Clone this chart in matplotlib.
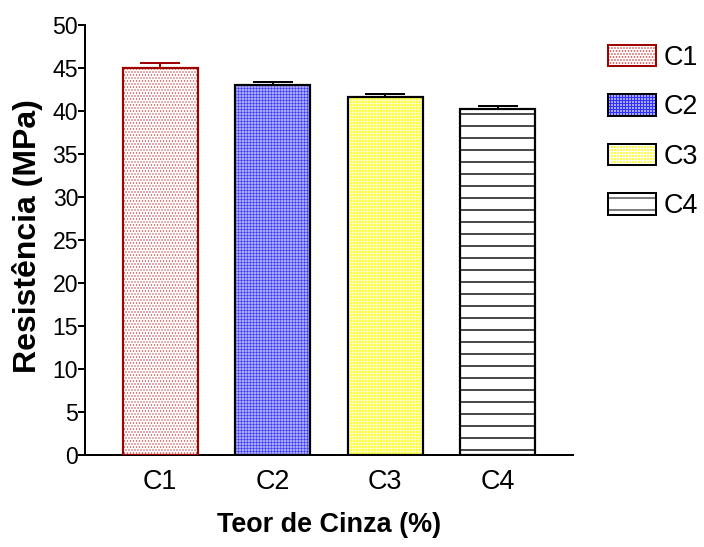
import numpy as np
import matplotlib as mpl
import matplotlib.pyplot as plt
from matplotlib.legend_handler import HandlerTuple

plt.rcParams['font.family'] = ['Liberation Sans', 'DejaVu Sans']

# data
groups = ['C1', 'C2', 'C3', 'C4']
means = [45.0, 43.0, 41.6, 40.3]
errs = [0.6, 0.4, 0.35, 0.3]

face_colors = ['white', '#a8a8ff', '#ffff40', 'white']
edge_colors = ['#a00000', 'black', 'black', 'black']
hatch_colors = ['#d04040', '#3030ff', 'white', 'black']
hatches = ['....', '++++', '++++', '-']
hatch_lw = [0.8, 0.5, 0.5, 1.4]

# dpi 72 so the hatch spacing matches the original
fig = plt.figure(figsize=(704 / 72, 547 / 72), dpi=72)
ax = fig.add_axes([0.121, 0.168, 0.693, 0.786])

x = np.arange(len(groups))
for i in range(len(groups)):
    with mpl.rc_context({'hatch.linewidth': hatch_lw[i]}):
        ax.bar(x[i], means[i], width=0.67, color=face_colors[i],
               edgecolor=hatch_colors[i], hatch=hatches[i], linewidth=0,
               zorder=2)
    ax.bar(x[i], means[i], width=0.67, fill=False,
           edgecolor=edge_colors[i], linewidth=2.2, zorder=3)
    ax.errorbar(x[i], means[i], yerr=[[0], [errs[i]]], fmt='none',
                ecolor=edge_colors[i], elinewidth=2, capsize=20,
                capthick=2, zorder=4)

ax.set_xlim(-0.667, 3.67)
ax.set_ylim(0, 50)
ax.set_yticks(np.arange(0, 51, 5))
ax.set_xticks(x)
ax.set_xticklabels(groups, fontsize=27)
for t in ax.get_yticklabels():
    t.set_fontsize(23)

for s in ['top', 'right']:
    ax.spines[s].set_visible(False)
for s in ['left', 'bottom']:
    ax.spines[s].set_linewidth(2)
ax.tick_params(axis='y', width=2, length=7, pad=0)
ax.tick_params(axis='x', length=0, pad=14)

ax.set_ylabel('Resistência (MPa)', fontsize=32, fontweight='bold')
ax.yaxis.set_label_coords(-0.087, 0.51)
ax.set_xlabel('Teor de Cinza (%)', fontsize=27, fontweight='bold')
ax.xaxis.set_label_coords(0.5, -0.133)

# legend keys: hatched fill + separate outline, so the hatch keeps its colour
handles = []
for i in range(len(groups)):
    with mpl.rc_context({'hatch.linewidth': hatch_lw[i]}):
        fill = plt.Rectangle((0, 0), 1, 1, facecolor=face_colors[i],
                             edgecolor=hatch_colors[i], hatch=hatches[i],
                             linewidth=0)
    outline = plt.Rectangle((0, 0), 1, 1, fill=False,
                            edgecolor=edge_colors[i], linewidth=2)
    handles.append((fill, outline))
leg = fig.legend(handles, groups, loc='upper left', bbox_to_anchor=(0.845, 0.943),
                 frameon=False, fontsize=27,
                 handler_map={tuple: HandlerTuple(ndivide=1, pad=0)},
                 handlelength=1.75, handleheight=0.85, borderpad=0,
                 labelspacing=0.865, handletextpad=0.3)

fig.savefig('out.png', dpi=72)
